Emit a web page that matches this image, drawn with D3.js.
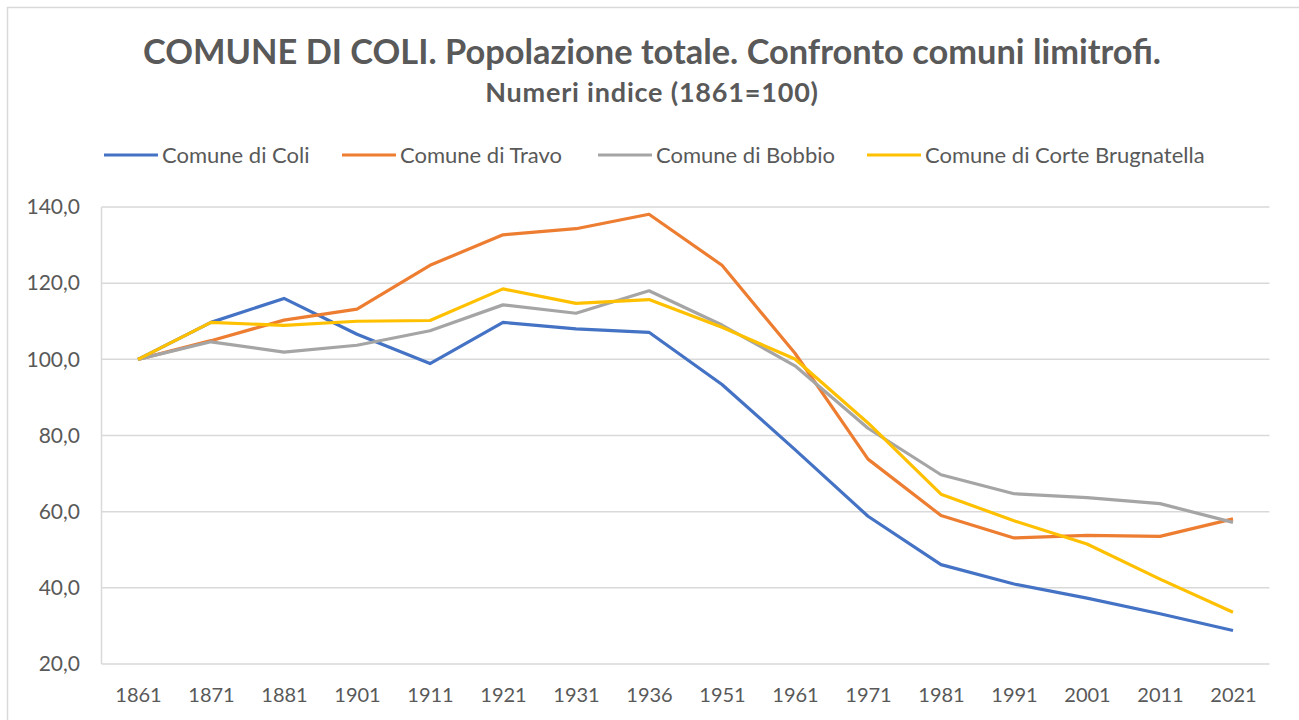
<!DOCTYPE html>
<html>
<head>
<meta charset="utf-8">
<script src="https://cdn.jsdelivr.net/npm/d3@7"></script>
<style>
  body { margin: 0; background: #fff; }
  svg { display: block; font-family: Lato, "Open Sans", sans-serif; }
</style>
</head>
<body>
<svg></svg>
<script>
// anni del censimento
const years = ["1861", "1871", "1881", "1901", "1911", "1921", "1931", "1936",
               "1951", "1961", "1971", "1981", "1991", "2001", "2011", "2021"];

// numeri indice (1861=100)
const coli   = [100, 109.7, 116.0, 106.6, 98.9, 109.7, 108.0, 107.1, 93.4, 76.3, 58.8, 46.1, 41.0, 37.3, 33.2, 28.8];
const travo  = [100, 104.9, 110.3, 113.2, 124.7, 132.7, 134.3, 138.1, 124.7, 101.6, 73.8, 59.0, 53.1, 53.8, 53.5, 58.1];
const bobbio = [100, 104.6, 101.9, 103.7, 107.5, 114.3, 112.1, 118.0, 109.0, 98.3, 81.9, 69.7, 64.7, 63.7, 62.1, 57.2];
const corte  = [100, 109.7, 108.9, 110.0, 110.2, 118.5, 114.7, 115.7, 108.4, 100.1, 83.3, 64.6, 57.6, 51.5, 42.3, 33.6];

const seriesNames = ["Comune di Coli", "Comune di Travo", "Comune di Bobbio", "Comune di Corte Brugnatella"];
const seriesColors = ["#4472c4", "#ed7d31", "#a5a5a5", "#ffc000"];
const yTicks = [20, 40, 60, 80, 100, 120, 140];

document.addEventListener("DOMContentLoaded", function() {
    const width = 1299;
    const height = 720;
    const svg = d3.select("svg")
        .attr("width", width)
        .attr("height", height);

    const textColor = "#595959";
    const gridColor = "#d9d9d9";

    // cornice esterna
    svg.append("rect")
        .attr("x", 7.5).attr("y", 7.5)
        .attr("width", width).attr("height", height)
        .attr("fill", "none")
        .attr("stroke", gridColor)
        .attr("stroke-width", 1.5);

    // titolo
    svg.append("text")
        .attr("x", 652).attr("y", 64)
        .attr("text-anchor", "middle")
        .attr("font-size", 34.4)
        .attr("font-weight", "bold")
        .attr("fill", textColor)
        .text("COMUNE DI COLI. Popolazione totale. Confronto comuni limitrofi.");

    svg.append("text")
        .attr("x", 652).attr("y", 102)
        .attr("text-anchor", "middle")
        .attr("font-size", 27)
        .attr("letter-spacing", 0.8)
        .attr("font-weight", "bold")
        .attr("fill", textColor)
        .text("Numeri indice (1861=100)");

    const x = d3.scalePoint()
        .domain(years)
        .range([101.5, 1269.5])
        .padding(0.5);

    const y = d3.scaleLinear()
        .domain([20, 140])
        .range([664, 207]);

    // griglia
    svg.append("g")
        .selectAll("line")
        .data(yTicks)
        .join("line")
        .attr("x1", 101.5).attr("x2", 1269.5)
        .attr("y1", d => y(d)).attr("y2", d => y(d))
        .attr("stroke", gridColor)
        .attr("stroke-width", 1.5);

    svg.append("line")
        .attr("x1", 101.5).attr("x2", 101.5)
        .attr("y1", y(140)).attr("y2", y(20))
        .attr("stroke", gridColor)
        .attr("stroke-width", 1.5);

    // asse y
    const yAxis = svg.append("g")
        .attr("transform", "translate(80,0)")
        .call(d3.axisLeft(y).tickValues(yTicks).tickSize(0).tickPadding(0)
            .tickFormat(d => d3.format(".1f")(d).replace(".", ",")));
    yAxis.select(".domain").remove();
    yAxis.selectAll("text")
        .attr("font-size", 21)
        .attr("font-family", "Lato, 'Open Sans', sans-serif")
        .attr("fill", textColor);

    // asse x
    const xAxis = svg.append("g")
        .attr("transform", "translate(0,688)")
        .call(d3.axisBottom(x).tickSize(0).tickPadding(0));
    xAxis.select(".domain").remove();
    xAxis.selectAll("text")
        .attr("font-size", 20)
        .attr("font-family", "Lato, 'Open Sans', sans-serif")
        .attr("fill", textColor);

    // linee
    const allSeries = [coli, travo, bobbio, corte];
    const line = d3.line()
        .x((d, i) => x(years[i]))
        .y(d => y(d));

    svg.append("g")
        .selectAll("path")
        .data(allSeries)
        .join("path")
        .attr("d", d => line(d))
        .attr("fill", "none")
        .attr("stroke", (d, i) => seriesColors[i])
        .attr("stroke-width", 3.2)
        .attr("stroke-linejoin", "round");

    // legenda
    const legendX = [104, 342, 598, 867];
    const legend = svg.append("g")
        .selectAll("g")
        .data(seriesNames)
        .join("g")
        .attr("transform", (d, i) => `translate(${legendX[i]},155)`);

    legend.append("line")
        .attr("x1", 0).attr("x2", 54)
        .attr("stroke", (d, i) => seriesColors[i])
        .attr("stroke-width", 3.2);

    legend.append("text")
        .attr("x", 58).attr("y", 7.5)
        .attr("font-size", 22)
        .attr("fill", textColor)
        .text(d => d);
});
</script>
</body>
</html>
